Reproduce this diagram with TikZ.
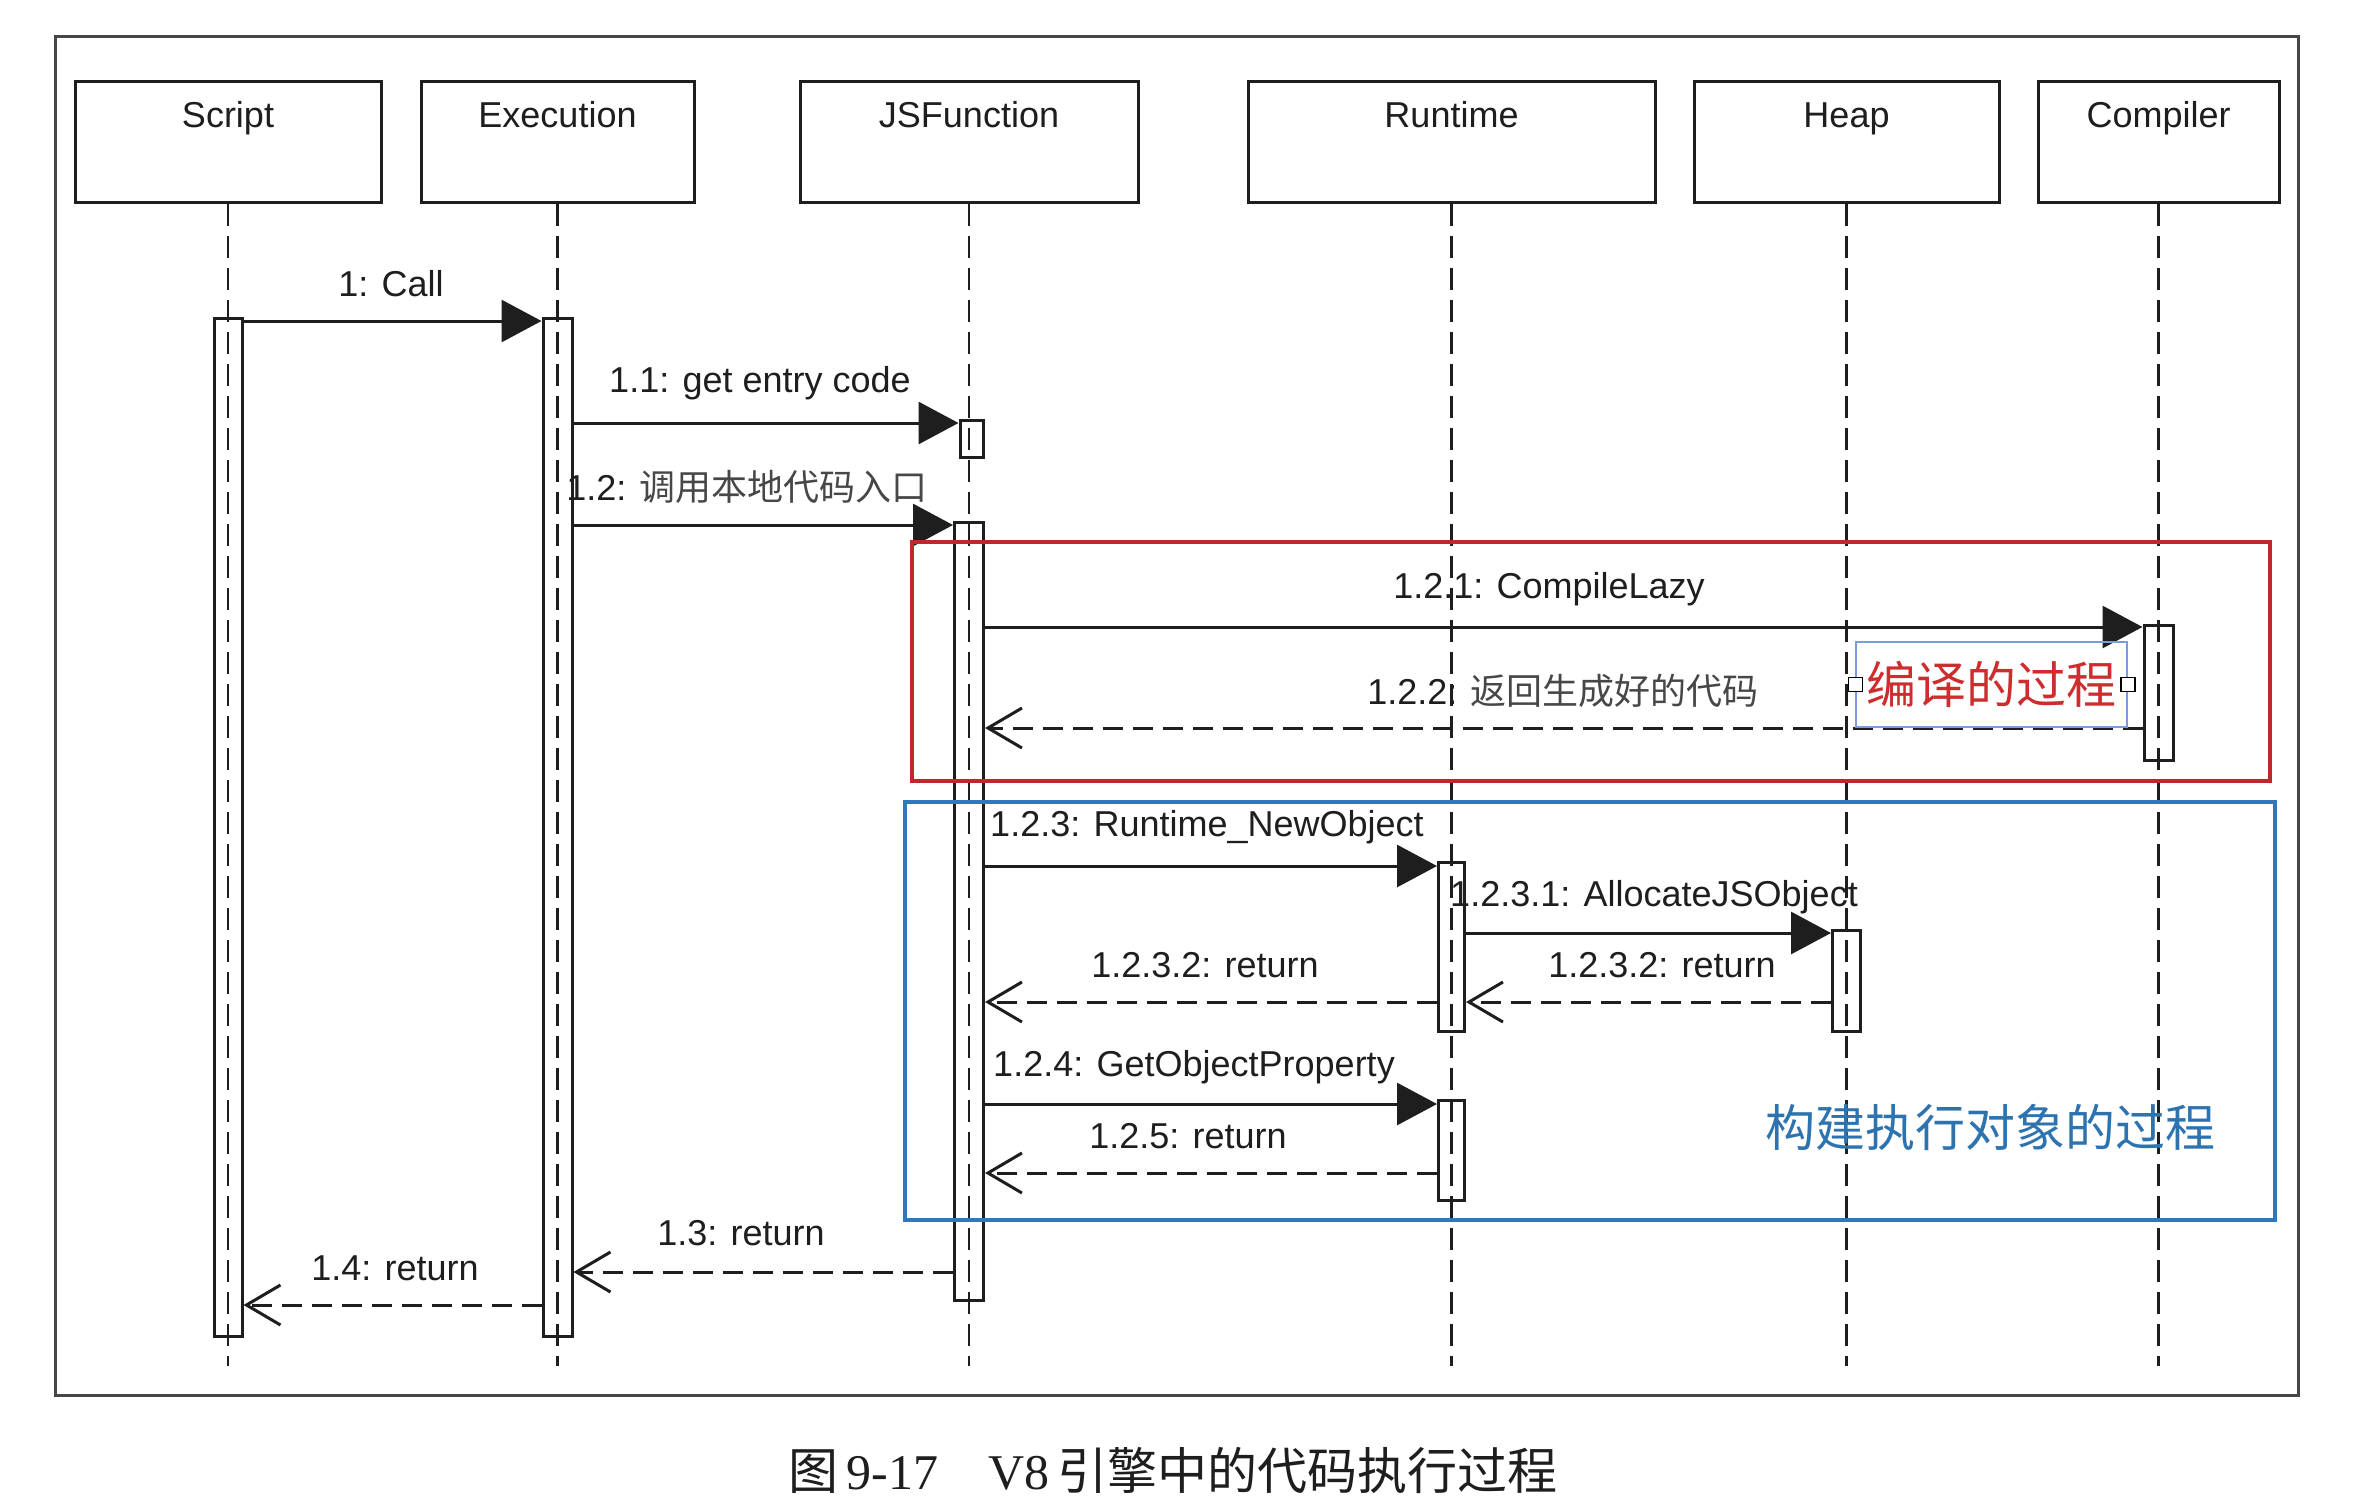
\documentclass[tikz,border=0pt]{standalone}
\usepackage{fontspec}
\setmainfont{Liberation Sans}
\newfontfamily\cjk{Noto Sans CJK SC}
\newfontfamily\serifl{Liberation Serif}
\usetikzlibrary{arrows.meta}
\definecolor{ink}{RGB}{30,30,30}
\definecolor{framegray}{RGB}{70,70,70}
\definecolor{boxred}{RGB}{190,40,40}
\definecolor{boxblue}{RGB}{45,120,190}
\definecolor{txtred}{RGB}{205,45,45}
\definecolor{txtblue}{RGB}{45,115,175}
\definecolor{selblue}{RGB}{120,155,225}
\begin{document}
\begin{tikzpicture}[x=1pt,y=-1pt,
  headbox/.style={draw=ink,line width=3pt,minimum height=121pt,inner sep=0pt},
  headlbl/.style={text=ink,font=\fontsize{36}{40}\selectfont,inner sep=0pt,anchor=base},
  lifeline/.style={draw=ink,line width=2.5pt,dash pattern=on 22pt off 10pt},
  act/.style={draw=ink,line width=3pt,inner sep=0pt},
  callmsg/.style={draw=ink,line width=3pt,-{Triangle[length=40pt,width=42pt]}},
  retmsg/.style={draw=ink,line width=3pt,dash pattern=on 20pt off 10pt,-{Straight Barb[length=34pt,width=40pt]}},
  msg/.style={text=ink,font=\fontsize{36}{40}\selectfont,inner sep=0pt},
  grpred/.style={draw=boxred,line width=4pt},
  grpblue/.style={draw=boxblue,line width=4pt},
  handle/.style={draw=black,fill=white,line width=1.5pt,minimum size=14pt,inner sep=0pt},
]
\useasboundingbox (0,0) rectangle (2360,1508);
\fill[white] (0,0) rectangle (2360,1508);

% outer frame
\draw[draw=framegray,line width=3pt] (55,36) rectangle (2298,1395);

% lifeline heads
\node[headbox,minimum width=306pt] (script) at (228,141.5) {};
\node[headbox,minimum width=273pt] (exec) at (557.5,141.5) {};
\node[headbox,minimum width=338pt] (jsf) at (969,141.5) {};
\node[headbox,minimum width=407pt] (rt) at (1451.5,141.5) {};
\node[headbox,minimum width=305pt] (heap) at (1846.5,141.5) {};
\node[headbox,minimum width=241pt] (comp) at (2158.5,141.5) {};
\node[headlbl] (scriptl) at (script.north |- 0,127) {Script};
\node[headlbl] (execl) at (exec.north |- 0,127) {Execution};
\node[headlbl] (jsfl) at (jsf.north |- 0,127) {JSFunction};
\node[headlbl] (rtl) at (rt.north |- 0,127) {Runtime};
\node[headlbl] (heapl) at (heap.north |- 0,127) {Heap};
\node[headlbl] (compl) at (comp.north |- 0,127) {Compiler};

% lifelines
\coordinate (lifeend) at (0,1366);
\draw[lifeline] (script.south) -- (script.south |- lifeend);
\draw[lifeline] (exec.south) -- (exec.south |- lifeend);
\draw[lifeline] (jsf.south) -- (jsf.south |- lifeend);
\draw[lifeline] (rt.south) -- (rt.south |- lifeend);
\draw[lifeline] (heap.south) -- (heap.south |- lifeend);
\draw[lifeline] (comp.south) -- (comp.south |- lifeend);

% activations
\node[act,minimum width=28pt,minimum height=1018pt] (sact) at (228,827) {};
\node[act,minimum width=29pt,minimum height=1018pt] (eact) at (557.5,827) {};
\node[act,minimum width=23pt,minimum height=37pt] (jact1) at (971.5,438.5) {};
\node[act,minimum width=29pt,minimum height=778pt] (jact) at (969,911) {};
\node[act,minimum width=29pt,minimum height=135pt] (cact) at (2158.5,692.5) {};
\node[act,minimum width=26pt,minimum height=169pt] (ract1) at (1451.5,946.5) {};
\node[act,minimum width=28pt,minimum height=101pt] (hact) at (1846.5,980.5) {};
\node[act,minimum width=26pt,minimum height=100pt] (ract2) at (1451.5,1150) {};

% messages
\draw[callmsg] (sact.east |- 0,321) -- (eact.west |- 0,321);
\node[msg] (m1) at (391,284) {1: Call};
\draw[callmsg] (eact.east |- 0,423) -- (jact1.west |- 0,423);
\node[msg] (m11) at (760,383) {1.1: get entry code};
\draw[callmsg] (eact.east |- 0,525) -- (jact.west |- 0,525);
\node[msg] (m12) at (747,487) {1.2: {\cjk\color{black!72}调用本地代码入口}};
\draw[callmsg] (jact.east |- 0,627) -- (cact.west |- 0,627);
\node[msg] (m121) at (1549,589) {1.2.1: CompileLazy};
\draw[retmsg] (cact.west |- 0,728) -- (jact.east |- 0,728);
\node[msg] (m122) at (1563,691) {1.2.2: {\cjk\color{black!72}返回生成好的代码}};
\draw[callmsg] (jact.east |- 0,866) -- (ract1.west |- 0,866);
\node[msg] (m123) at (1207,827) {1.2.3: Runtime\_NewObject};
\draw[callmsg] (ract1.east |- 0,933) -- (hact.west |- 0,933);
\node[msg] (m1231) at (1654,897) {1.2.3.1: AllocateJSObject};
\draw[retmsg] (hact.west |- 0,1002) -- (ract1.east |- 0,1002);
\node[msg] (m1232b) at (1662,965) {1.2.3.2: return};
\draw[retmsg] (ract1.west |- 0,1002) -- (jact.east |- 0,1002);
\node[msg] (m1232a) at (1205,965) {1.2.3.2: return};
\draw[callmsg] (jact.east |- 0,1104) -- (ract2.west |- 0,1104);
\node[msg] (m124) at (1194,1067) {1.2.4: GetObjectProperty};
\draw[retmsg] (ract2.west |- 0,1173) -- (jact.east |- 0,1173);
\node[msg] (m125) at (1188,1136) {1.2.5: return};
\draw[retmsg] (jact.west |- 0,1272) -- (eact.east |- 0,1272);
\node[msg] (m13) at (741,1233) {1.3: return};
\draw[retmsg] (eact.west |- 0,1305) -- (sact.east |- 0,1305);
\node[msg] (m14) at (395,1268) {1.4: return};

% group boxes
\draw[grpred] (912,542) rectangle (2270,781);
\draw[grpblue] (905,802) rectangle (2275,1220);

% annotation texts
\node[draw=selblue,line width=1.5pt,minimum width=271pt,minimum height=85pt,inner sep=0pt,
      text=txtred,font=\cjk\fontsize{50}{56}\selectfont] (compnote) at (1991.5,684.5) {编译的过程};
\node[handle] (hl) at (compnote.west) {};
\node[handle] (hr) at (compnote.east) {};
\node[text=txtblue,font=\cjk\fontsize{50}{56}\selectfont,inner sep=0pt] (buildnote) at (1990,1127) {构建执行对象的过程};

% caption
\node[text=ink,font=\fontsize{50}{56}\selectfont,inner sep=0pt] (cap) at (1173,1470)
  {{\cjk 图}\,{\serifl 9-17}\hspace{1em}{\serifl V8}\,{\cjk 引擎中的代码执行过程}};
\end{tikzpicture}
\end{document}
